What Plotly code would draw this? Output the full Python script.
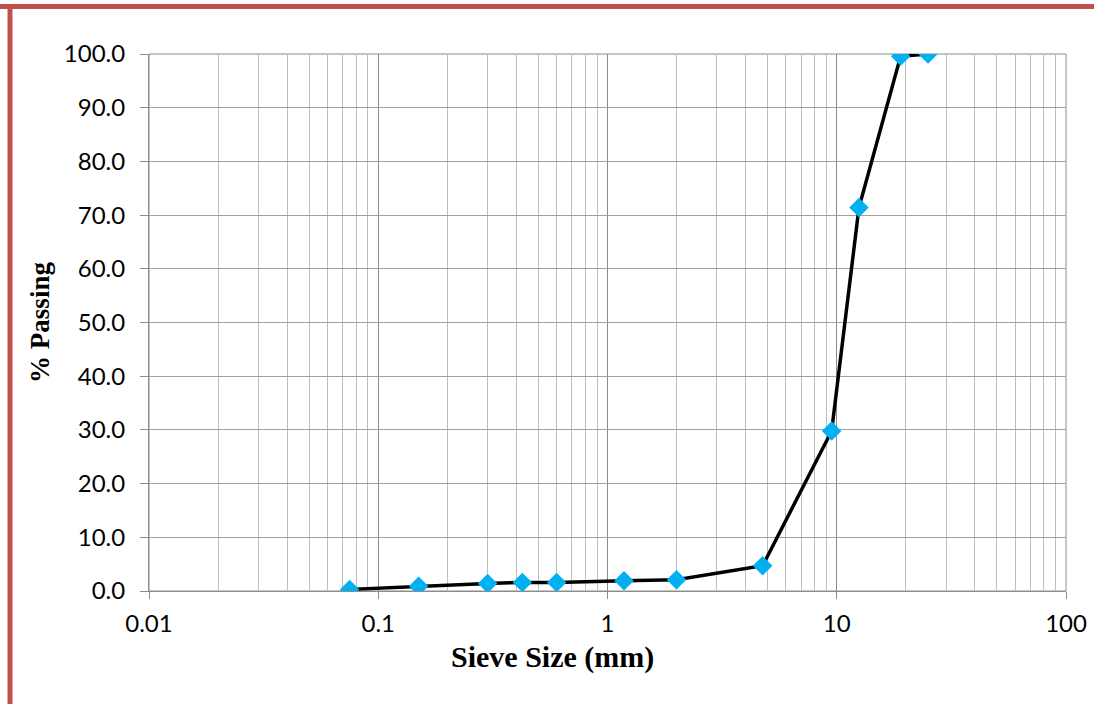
import plotly.graph_objects as go

# Sieve analysis results
sieve_size_mm = [0.075, 0.15, 0.3, 0.425, 0.6, 1.18, 2.0, 4.75, 9.5, 12.5, 19.0, 25.0]
percent_passing = [0.3, 0.9, 1.4, 1.6, 1.6, 1.9, 2.1, 4.7, 29.8, 71.4, 99.6, 100.0]

x_tick_vals = [0.01, 0.1, 1, 10, 100]
x_tick_text = ["0.01", "0.1", "1", "10", "100"]
y_tick_vals = [0, 10, 20, 30, 40, 50, 60, 70, 80, 90, 100]

minor_vals = [m * d for d in [0.01, 0.1, 1, 10] for m in range(2, 10)]

W, H = 1094, 704
L, R, T, B = 149, 28, 54, 113
pw, ph = W - L - R, H - T - B

def px_to_paper_x(px):
    return (px - L) / pw

def px_to_paper_y(py):
    return (H - B - py) / ph

tick_font = dict(family="Lato, Carlito, Liberation Sans", size=24, color="black")
title_family = "Liberation Serif, Times New Roman"

fig = go.Figure()

fig.add_trace(go.Scatter(
    x=sieve_size_mm, y=percent_passing, mode="lines+markers",
    line=dict(color="black", width=3.5),
    marker=dict(symbol="diamond", size=15, color="#00B0F0", line=dict(width=0)),
    showlegend=False,
))

fig.update_xaxes(
    type="log", range=[-2, 2], automargin=False,
    tickvals=x_tick_vals, ticktext=x_tick_text,
    showgrid=True, gridcolor="#8C8C8C", gridwidth=1,
    minor=dict(tickvals=minor_vals, showgrid=True, gridcolor="#BEBEBE", gridwidth=1, ticks=""),
    showline=True, linecolor="#8C8C8C", linewidth=1, mirror=False,
    ticks="outside", ticklen=7, tickcolor="#8C8C8C",
    ticklabelstandoff=4,
    tickfont=tick_font,
    zeroline=False,
)
fig.update_yaxes(
    range=[0, 100], automargin=False, tickvals=y_tick_vals, tickformat=".1f",
    showgrid=True, gridcolor="#A0A0A0", gridwidth=1,
    showline=True, linecolor="#8C8C8C", linewidth=1,
    ticks="outside", ticklen=8, tickcolor="#8C8C8C",
    ticklabelstandoff=10,
    tickfont=tick_font,
    title=dict(text="<b>% Passing</b>", standoff=6,
               font=dict(family=title_family, size=27, color="black")),
    zeroline=False,
)

# x-axis title, placed left of the plot centre
fig.add_annotation(
    text="<b>Sieve Size (mm)</b>", xref="paper", yref="paper",
    x=px_to_paper_x(552), y=px_to_paper_y(657), xanchor="center", yanchor="middle",
    showarrow=False, font=dict(family=title_family, size=30, color="black"),
)

# outer frame (top and left edges)
frame_color = "#C0504D"
fig.add_shape(type="line", xref="paper", yref="paper",
              x0=px_to_paper_x(0), x1=px_to_paper_x(W), y0=px_to_paper_y(6.5), y1=px_to_paper_y(6.5),
              line=dict(color=frame_color, width=5), layer="above")
fig.add_shape(type="line", xref="paper", yref="paper",
              x0=px_to_paper_x(10), x1=px_to_paper_x(10), y0=px_to_paper_y(4), y1=px_to_paper_y(H),
              line=dict(color=frame_color, width=5), layer="above")

# right/top border of the plot area
fig.add_shape(type="rect", xref="paper", yref="paper", x0=0, x1=1, y0=0, y1=1,
              line=dict(color="#8C8C8C", width=1), layer="below")

fig.update_layout(
    width=W, height=H,
    margin=dict(l=L, r=R, t=T, b=B, autoexpand=False),
    paper_bgcolor="white", plot_bgcolor="white",
)

fig.write_html("out.html")
